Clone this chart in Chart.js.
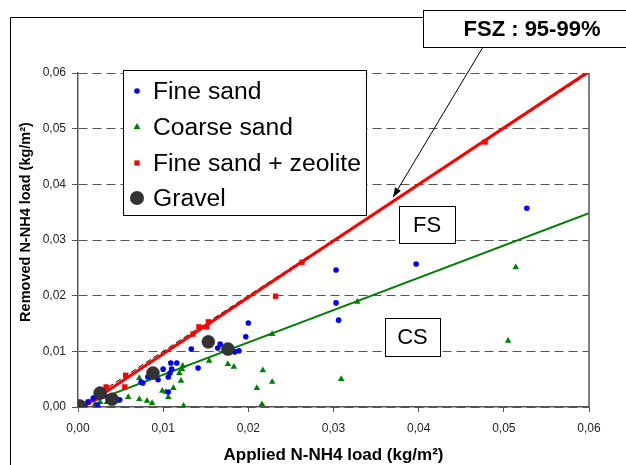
<!DOCTYPE html>
<html>
<head>
<meta charset="utf-8">
<script src="https://cdn.jsdelivr.net/npm/chart.js@4/dist/chart.umd.min.js"></script>
<style>
  html, body { margin: 0; padding: 0; background: #fff; }
  #wrap { width: 626px; height: 465px; }
</style>
</head>
<body>
<div id="wrap"><canvas id="graf" width="626" height="465"></canvas></div>
<script>
// valores (kg/m²)
const fineSandX = [0.0527, 0.0397, 0.0303, 0.0303, 0.0306, 0.0200, 0.0197, 0.0167, 0.0164, 0.0189, 0.0184, 0.0133, 0.0141, 0.0109, 0.0116, 0.0100, 0.0110, 0.0108, 0.0106, 0.0094, 0.0106, 0.0082, 0.0076, 0.0074, 0.0049, 0.0035, 0.0018, 0.0023, 0.0012, 0.0008, 0.0030];
const fineSandY = [0.0357, 0.0257, 0.0246, 0.0187, 0.0156, 0.0151, 0.0126, 0.0113, 0.0106, 0.0101, 0.0099, 0.0104, 0.0070, 0.0079, 0.0079, 0.0068, 0.0068, 0.0061, 0.0054, 0.0049, 0.0027, 0.0054, 0.0043, 0.0045, 0.0013, 0.0018, 0.0016, 0.0004, 0.0009, 0.0000, 0.0020];

const coarseSandX = [0.0514, 0.0505, 0.0328, 0.0309, 0.0228, 0.0217, 0.0228, 0.0210, 0.0216, 0.0183, 0.0176, 0.0154, 0.0123, 0.0122, 0.0119, 0.0121, 0.0112, 0.0099, 0.0103, 0.0106, 0.0124, 0.0072, 0.0059, 0.0072, 0.0081, 0.0087, 0.0046, 0.0034, 0.0026, 0.0020];
const coarseSandY = [0.0251, 0.0119, 0.0189, 0.0050, 0.0131, 0.0066, 0.0045, 0.0034, 0.0005, 0.0072, 0.0077, 0.0083, 0.0074, 0.0068, 0.0061, 0.0047, 0.0034, 0.0029, 0.0027, 0.0018, 0.0002, 0.0052, 0.0018, 0.0014, 0.0011, 0.0007, 0.0011, 0.0009, 0.0009, 0.0005];

const zeoliteX = [0.0478, 0.0263, 0.0232, 0.0153, 0.0151, 0.0142, 0.0135, 0.0056, 0.0055, 0.0033, 0.0020, 0.0012];
const zeoliteY = [0.0476, 0.0260, 0.0199, 0.0153, 0.0144, 0.0144, 0.0131, 0.0057, 0.0036, 0.0036, 0.0016, 0.0009];

const gravelX = [0.0002, 0.0026, 0.0040, 0.0088, 0.0153, 0.0176];
const gravelY = [0.0002, 0.0025, 0.0014, 0.0061, 0.0117, 0.0104];

// retas de tendência e linha 1:1
const fszLineX = [0.0006, 0.0600];
const fszLineY = [0.0000, 0.0603];
const csLineX = [0.0000, 0.0600];
const csLineY = [0.0000, 0.0348];
const oneToOneX = [0.0000, 0.0600];
const oneToOneY = [0.0000, 0.0600];

const xTicks = [0, 0.01, 0.02, 0.03, 0.04, 0.05, 0.06];
const xTickLabels = ['0,00', '0,01', '0,02', '0,03', '0,04', '0,05', '0,06'];
const yTicks = [0, 0.01, 0.02, 0.03, 0.04, 0.05, 0.06];
const yTickLabels = ['0,00', '0,01', '0,02', '0,03', '0,04', '0,05', '0,06'];

const seriesNames = ['Fine sand', 'Coarse sand', 'Fine sand + zeolite', 'Gravel'];
const yTitulo = 'Removed N-NH4 load (kg/m²)';
const FONTE = '"Liberation Sans", Arial, sans-serif';

function pontos(xs, ys) {
    return xs.map((x, i) => ({ x: x, y: ys[i] }));
}

function marcador(ctx, tipo, x, y, r, cor) {
    ctx.save();
    ctx.fillStyle = cor;
    ctx.beginPath();
    if (tipo === 'circle') {
        ctx.arc(x, y, r, 0, Math.PI * 2);
    } else if (tipo === 'triangle') {
        const b = r * Math.sqrt(3) / 2;
        ctx.moveTo(x, y - r);
        ctx.lineTo(x + b, y + r / 2);
        ctx.lineTo(x - b, y + r / 2);
        ctx.closePath();
    } else {
        ctx.rect(x - r, y - r, 2 * r, 2 * r);
    }
    ctx.fill();
    ctx.restore();
}

function caixaTexto(ctx, x, y, w, h, texto, fonte) {
    ctx.save();
    ctx.fillStyle = '#fff';
    ctx.fillRect(x, y, w, h);
    ctx.strokeStyle = '#000';
    ctx.lineWidth = 1;
    ctx.strokeRect(x + 0.5, y + 0.5, w, h);
    ctx.fillStyle = '#000';
    ctx.font = fonte;
    ctx.textAlign = 'center';
    ctx.textBaseline = 'middle';
    ctx.fillText(texto, x + w / 2, y + h / 2 + 1);
    ctx.restore();
}

const decoracao = {
    id: 'decoracao',
    afterDraw(chart) {
        const ctx = chart.ctx;
        const area = chart.chartArea;
        const sx = chart.scales.x, sy = chart.scales.y;

        ctx.save();
        // moldura externa
        ctx.strokeStyle = '#000';
        ctx.lineWidth = 1;
        ctx.beginPath();
        ctx.moveTo(10.5, 465);
        ctx.lineTo(10.5, 17.5);
        ctx.lineTo(430, 17.5);
        ctx.stroke();

        // borda direita do gráfico
        ctx.strokeStyle = '#555';
        ctx.lineWidth = 1.5;
        ctx.beginPath();
        ctx.moveTo(area.right, area.top);
        ctx.lineTo(area.right, area.bottom);
        ctx.stroke();
        ctx.restore();

        // título do eixo Y (deslocado para cima como no original)
        ctx.save();
        ctx.translate(26, 222);
        ctx.rotate(-Math.PI / 2);
        ctx.font = 'bold 14.5px ' + FONTE;
        ctx.fillStyle = '#000';
        ctx.textAlign = 'center';
        ctx.textBaseline = 'middle';
        ctx.fillText(yTitulo, 0, 0);
        ctx.restore();

        // legenda
        ctx.save();
        ctx.fillStyle = '#fff';
        ctx.fillRect(123, 70, 243, 145);
        ctx.strokeStyle = '#000';
        ctx.lineWidth = 1;
        ctx.strokeRect(123.5, 70.5, 243, 145);
        const linhas = [91, 127, 163, 198];
        const estilos = [['circle', 2.8, '#0000ff'], ['triangle', 4, '#008000'], ['rect', 2.6, '#ff0000'], ['circle', 7, '#333333']];
        ctx.font = '24.7px ' + FONTE;
        ctx.textBaseline = 'middle';
        seriesNames.forEach((nome, i) => {
            marcador(ctx, estilos[i][0], 137, linhas[i], estilos[i][1], estilos[i][2]);
            ctx.fillStyle = '#000';
            ctx.fillText(nome, 153, linhas[i] + 1);
        });
        ctx.restore();

        caixaTexto(ctx, 399, 206, 56, 37, 'FS', '22px ' + FONTE);
        caixaTexto(ctx, 385, 318, 55, 38, 'CS', '22px ' + FONTE);

        // seta e caixa FSZ
        const alvoX = sx.getPixelForValue(0.0370);
        const alvoY = sy.getPixelForValue(0.0377);
        const origemX = 483, origemY = 47;
        ctx.save();
        ctx.strokeStyle = '#000';
        ctx.fillStyle = '#000';
        ctx.lineWidth = 1;
        ctx.beginPath();
        ctx.moveTo(origemX, origemY);
        ctx.lineTo(alvoX, alvoY);
        ctx.stroke();
        const ang = Math.atan2(alvoY - origemY, alvoX - origemX);
        ctx.beginPath();
        ctx.moveTo(alvoX, alvoY);
        ctx.lineTo(alvoX - 10 * Math.cos(ang - 0.35), alvoY - 10 * Math.sin(ang - 0.35));
        ctx.lineTo(alvoX - 10 * Math.cos(ang + 0.35), alvoY - 10 * Math.sin(ang + 0.35));
        ctx.closePath();
        ctx.fill();
        ctx.restore();

        caixaTexto(ctx, 423, 10, 220, 37, '', 'bold 22px ' + FONTE);
        ctx.save();
        ctx.font = 'bold 22px ' + FONTE;
        ctx.fillStyle = '#000';
        ctx.textAlign = 'center';
        ctx.textBaseline = 'middle';
        ctx.fillText('FSZ : 95-99%', 532, 30);
        ctx.restore();
    }
};

new Chart(document.getElementById('graf'), {
    type: 'scatter',
    data: {
        datasets: [
            {
                label: seriesNames[3], data: pontos(gravelX, gravelY),
                pointStyle: 'circle', pointRadius: 6.5, pointHoverRadius: 6.5,
                backgroundColor: '#333333', borderColor: '#2a2a2a', borderWidth: 0.5
            },
            {
                label: seriesNames[0], data: pontos(fineSandX, fineSandY),
                pointStyle: 'circle', pointRadius: 2.8, pointHoverRadius: 2.8,
                backgroundColor: '#0000ff', borderColor: '#0000ff', borderWidth: 0
            },
            {
                label: seriesNames[2], data: pontos(zeoliteX, zeoliteY),
                pointStyle: 'rect', pointRadius: 3.8, pointHoverRadius: 3.8,
                backgroundColor: '#ff0000', borderColor: '#ff0000', borderWidth: 0
            },
            {
                label: seriesNames[1], data: pontos(coarseSandX, coarseSandY),
                pointStyle: 'triangle', pointRadius: 3.8, pointHoverRadius: 3.8,
                backgroundColor: '#008000', borderColor: '#008000', borderWidth: 0
            },
            {
                label: 'FSZ', data: pontos(fszLineX, fszLineY), showLine: true,
                borderColor: '#ff0000', borderWidth: 3, pointRadius: 0, fill: false
            },
            {
                label: 'CS', data: pontos(csLineX, csLineY), showLine: true,
                borderColor: '#008000', borderWidth: 2, pointRadius: 0, fill: false
            },
            {
                label: '1:1', data: pontos(oneToOneX, oneToOneY), showLine: true,
                borderColor: '#000', borderWidth: 1, borderDash: [6, 3],
                pointRadius: [0, 2], backgroundColor: '#00e5ff', pointBorderWidth: 0, fill: false
            }
        ]
    },
    options: {
        responsive: false,
        animation: false,
        devicePixelRatio: 1,
        layout: { padding: { left: 10, right: 37, top: 73, bottom: 0 } },
        plugins: {
            legend: { display: false },
            tooltip: { enabled: false }
        },
        scales: {
            x: {
                type: 'linear', min: 0, max: 0.06,
                afterBuildTicks: s => { s.ticks = xTicks.map(v => ({ value: v })); },
                afterFit: s => { s.height = 58; },
                ticks: {
                    callback: (v, i) => xTickLabels[i],
                    font: { family: FONTE, size: 12 }, color: '#222', padding: 9, maxRotation: 0
                },
                grid: { drawOnChartArea: false, drawTicks: true, tickLength: 5, tickColor: '#555' },
                border: { color: '#555', width: 1.5 },
                title: {
                    display: true, text: 'Applied N-NH4 load (kg/m²)',
                    font: { family: FONTE, size: 17, weight: 'bold', lineHeight: 1 },
                    color: '#000', padding: { top: 0, bottom: 1 }
                }
            },
            y: {
                type: 'linear', min: 0, max: 0.06,
                afterBuildTicks: s => { s.ticks = yTicks.map(v => ({ value: v })); },
                afterFit: s => { s.width = 68; },
                ticks: {
                    callback: (v, i) => yTickLabels[i],
                    font: { family: FONTE, size: 12 }, color: '#222', padding: 6
                },
                grid: { color: '#555', lineWidth: 1, drawTicks: true, tickLength: 6, tickColor: '#555' },
                border: { color: '#555', width: 1.5, dash: [9, 5] },
                title: { display: false }
            }
        }
    },
    plugins: [decoracao]
});
</script>
</body>
</html>
